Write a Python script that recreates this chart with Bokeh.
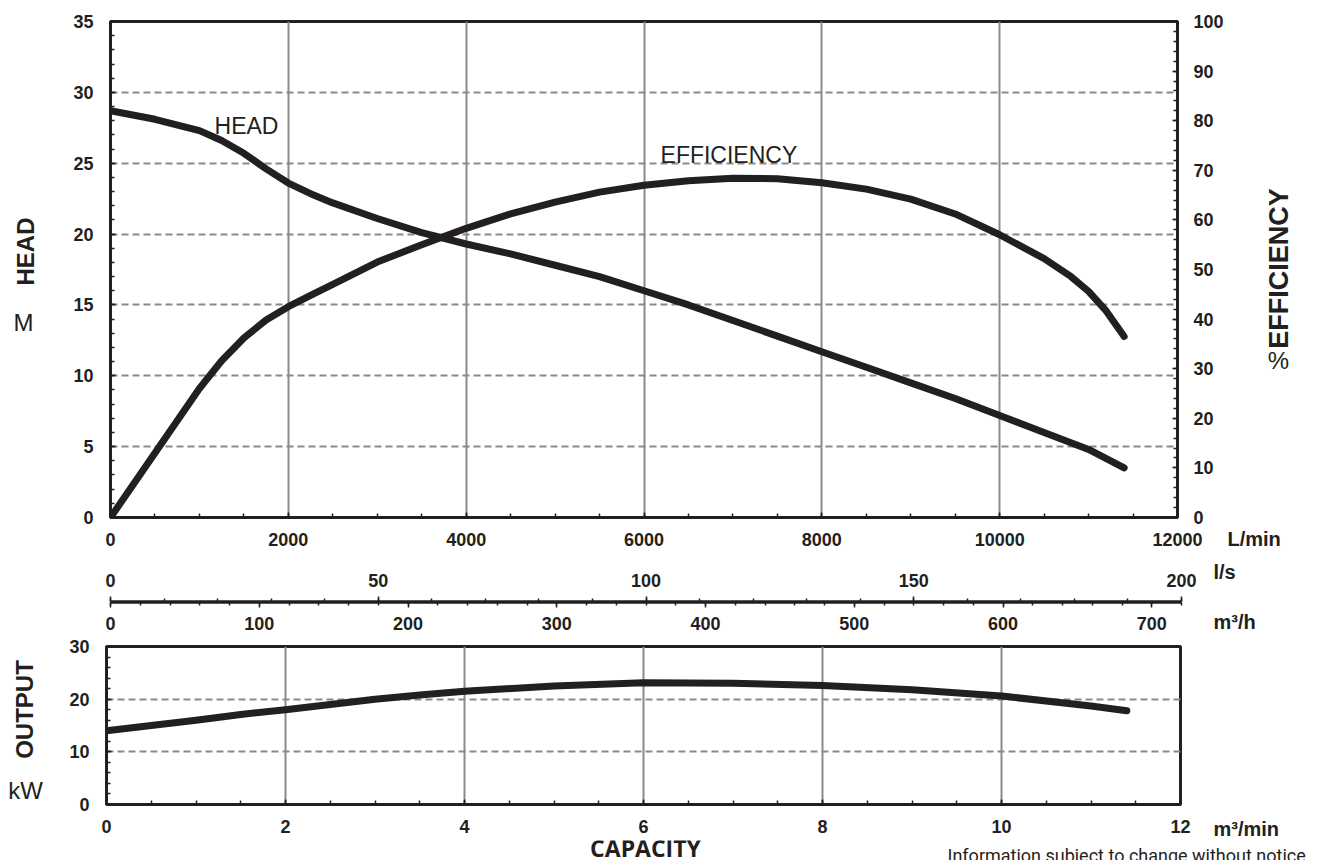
from math import pi
from bokeh.plotting import figure
from bokeh.models import Range1d, LinearAxis, SingleIntervalTicker, Label
from bokeh.layouts import column, row
from bokeh.embed import file_html
from bokeh.resources import INLINE

# ---------------- data ----------------
head_flow_lpm = [0, 500, 1000, 1250, 1500, 1750, 2000, 2250, 2500, 3000, 3500, 4000, 4500, 5000, 5500,
                 6000, 6500, 7000, 7500, 8000, 8500, 9000, 9500, 10000, 10500, 11000, 11400]
head_m = [28.7, 28.1, 27.3, 26.6, 25.7, 24.6, 23.6, 22.85, 22.2, 21.1, 20.1, 19.3, 18.6, 17.8, 17.0,
          16.0, 15.0, 13.9, 12.8, 11.7, 10.6, 9.5, 8.4, 7.2, 6.0, 4.8, 3.5]

eff_flow_lpm = [0, 500, 1000, 1250, 1500, 1750, 2000, 2250, 2500, 3000, 3500, 4000, 4500, 5000, 5500,
                6000, 6500, 7000, 7500, 8000, 8500, 9000, 9500, 10000, 10500, 10800, 11000, 11200, 11400]
eff_pct = [0, 13.0, 26.0, 31.6, 36.2, 39.8, 42.5, 44.8, 47.0, 51.5, 55.0, 58.3, 61.2, 63.6, 65.6,
           67.0, 67.9, 68.4, 68.3, 67.5, 66.2, 64.2, 61.2, 57.0, 52.2, 48.6, 45.6, 41.6, 36.5]

out_flow_m3min = [0, 0.5, 1.0, 1.5, 2.0, 2.5, 3.0, 3.5, 4.0, 5.0, 6.0, 7.0, 8.0, 9.0, 10.0, 11.0, 11.4]
output_kw = [14.0, 15.0, 16.0, 17.1, 18.0, 19.0, 20.0, 20.8, 21.5, 22.5, 23.1, 23.0, 22.6, 21.8, 20.6, 18.7, 17.8]

INK = "#231f20"
GRID = "#8a8a8a"
FONT = "Liberation Sans"

TOTAL_W = 1320
LEFT_W = 60                 # left text strips
MAIN_W = 1166               # main chart canvas (60 -> 1226)
LOW_W = 1152                # scale strip and output chart canvas (60 -> 1212)
MAIN_H, MIDDLE_H, BOT_H, FOOT_H = 555, 82, 203, 20


def style_axis(ax, tin=5, tout=0, min_in=4, min_out=0, standoff=15, line_w=3):
    ax.axis_line_width = line_w
    ax.axis_line_color = INK
    ax.major_tick_in = tin
    ax.major_tick_out = tout
    ax.minor_tick_in = min_in
    ax.minor_tick_out = min_out
    ax.major_tick_line_width = 1.5
    ax.minor_tick_line_width = 1.5
    ax.major_tick_line_color = INK
    ax.minor_tick_line_color = INK
    ax.major_label_text_font = FONT
    ax.major_label_text_font_style = "bold"
    ax.major_label_text_font_size = "18px"
    ax.major_label_text_color = INK
    ax.major_label_standoff = standoff


def label(p, x, y, t, size="24px", bold=False, align="left", baseline="middle", angle=0, font=FONT):
    p.add_layout(Label(x=x, y=y, text=t, text_font=font, text_font_size=size,
                       text_font_style="bold" if bold else "normal",
                       text_color=INK, text_align=align, text_baseline=baseline, angle=angle))


def strip(w, h, x0, y0):
    """A blank panel whose data coordinates are page pixel coordinates (used only for text)."""
    s = figure(width=w, height=h, x_range=Range1d(x0, x0 + w), y_range=Range1d(y0 + h, y0),
               x_axis_location=None, y_axis_location=None, output_backend="svg",
               toolbar_location=None, min_border_left=0, min_border_right=0,
               min_border_top=0, min_border_bottom=0)
    s.outline_line_color = None
    s.xgrid.visible = False
    s.ygrid.visible = False
    return s


# ---------------- main (head / efficiency) ----------------
main = figure(width=MAIN_W, height=MAIN_H, x_range=Range1d(0, 12000), y_range=Range1d(0, 35),
              output_backend="svg", toolbar_location=None,
              min_border_left=50, min_border_right=49, min_border_top=21, min_border_bottom=38)
main.extra_y_ranges = {"eff": Range1d(0, 100)}
main.outline_line_color = INK
main.outline_line_width = 3

xt = SingleIntervalTicker(interval=2000, num_minor_ticks=4)
yt = SingleIntervalTicker(interval=5, num_minor_ticks=5)
main.xaxis[0].ticker = xt
main.yaxis[0].ticker = yt
main.xgrid[0].ticker = xt
main.ygrid[0].ticker = yt
style_axis(main.xaxis[0], standoff=15)
style_axis(main.yaxis[0], standoff=17)

rax = LinearAxis(y_range_name="eff", ticker=SingleIntervalTicker(interval=10, num_minor_ticks=5))
style_axis(rax, standoff=16)
main.add_layout(rax, "right")

main.xgrid.grid_line_color = GRID
main.xgrid.grid_line_width = 2
main.ygrid.grid_line_color = GRID
main.ygrid.grid_line_width = 2
main.ygrid.grid_line_dash = "7 4"

main.line(head_flow_lpm, head_m, line_color=INK, line_width=7, line_cap="round", line_join="round")
main.line(eff_flow_lpm, eff_pct, y_range_name="eff", line_color=INK, line_width=7,
          line_cap="round", line_join="round")

label(main, 1170, 27.6, "HEAD", size="23px")
label(main, 6186, 25.55, "EFFICIENCY", size="23px")

# ---------------- middle (l/s and m3/h scales) ----------------
mid = figure(width=LOW_W, height=MIDDLE_H, x_range=Range1d(0, 200), y_range=Range1d(0, 1),
             x_axis_location="above", y_axis_location=None,
             output_backend="svg", toolbar_location=None,
             min_border_left=50, min_border_right=31, min_border_top=46, min_border_bottom=35)
mid.outline_line_color = None
mid.xgrid.visible = False
mid.ygrid.visible = False
mid.extra_x_ranges = {"m3h": Range1d(0, 720)}
mid.xaxis[0].ticker = SingleIntervalTicker(interval=50, num_minor_ticks=5)
style_axis(mid.xaxis[0], tin=0, tout=5, min_in=0, min_out=3, standoff=10, line_w=2.5)
m3h = LinearAxis(x_range_name="m3h", ticker=SingleIntervalTicker(interval=100, num_minor_ticks=5))
style_axis(m3h, tin=0, tout=5, min_in=0, min_out=3, standoff=9, line_w=2.5)
mid.add_layout(m3h, "below")

# ---------------- bottom (output) ----------------
bot = figure(width=LOW_W, height=BOT_H, x_range=Range1d(0, 12), y_range=Range1d(0, 30),
             output_backend="svg", toolbar_location=None,
             min_border_left=46, min_border_right=32, min_border_top=9, min_border_bottom=36)
bot.outline_line_color = INK
bot.outline_line_width = 3
bxt = SingleIntervalTicker(interval=2, num_minor_ticks=4)
byt = SingleIntervalTicker(interval=10, num_minor_ticks=5)
bot.xaxis[0].ticker = bxt
bot.yaxis[0].ticker = byt
bot.xgrid[0].ticker = bxt
bot.ygrid[0].ticker = byt
style_axis(bot.xaxis[0], standoff=15)
style_axis(bot.yaxis[0], standoff=17)
bot.xgrid.grid_line_color = GRID
bot.xgrid.grid_line_width = 2
bot.ygrid.grid_line_color = GRID
bot.ygrid.grid_line_width = 2
bot.ygrid.grid_line_dash = "7 4"

bot.line(out_flow_m3min, output_kw, line_color=INK, line_width=7, line_cap="round", line_join="round")

# ---------------- text strips ----------------
y_mid = MAIN_H
y_bot = MAIN_H + MIDDLE_H
y_foot = y_bot + BOT_H

left_a = strip(LEFT_W, MAIN_H, 0, 0)
label(left_a, 25, 251, "HEAD", bold=True, align="center", angle=pi / 2)
label(left_a, 23, 322, "M", align="center")

x_ra = LEFT_W + MAIN_W
right_a = strip(TOTAL_W - x_ra, MAIN_H, x_ra, 0)
label(right_a, 1278, 268, "EFFICIENCY", size="27px", bold=True, align="center", angle=pi / 2)
label(right_a, 1278, 360, "%", align="center")
label(right_a, x_ra + 1, 538, "L/min", size="20px", bold=True)

x_rb = LEFT_W + LOW_W
left_b = strip(LEFT_W, MIDDLE_H, 0, y_mid)
right_b = strip(TOTAL_W - x_rb, MIDDLE_H, x_rb, y_mid)
label(right_b, 1213, 571, "l/s", size="20px", bold=True)
label(right_b, 1213, 621, "m³/h", size="20px", bold=True)

left_c = strip(LEFT_W, BOT_H, 0, y_bot)
label(left_c, 24, 709, "OUTPUT", bold=True, align="center", angle=pi / 2)
label(left_c, 25, 790, "kW", align="center")
right_c = strip(TOTAL_W - x_rb, BOT_H, x_rb, y_bot)
label(right_c, 1213, 828, "m³/min", size="20px", bold=True)

foot = strip(TOTAL_W, FOOT_H, 0, y_foot)
label(foot, 645, 847, "CAPACITY", size="23px", bold=True, align="center", font="Open Sans")
label(foot, 1310, 855, "Information subject to change without notice.", size="18px",
      align="right", baseline="alphabetic", font="Roboto")

# text strips are wrapped in their own columns so that their frames are not aligned
# with the chart frames beside them
layout = column(
    row(column(left_a), main, column(right_a), spacing=0),
    row(column(left_b), mid, column(right_b), spacing=0),
    row(column(left_c), bot, column(right_c), spacing=0),
    foot,
    spacing=0,
)
open("out.html", "w").write(file_html(layout, INLINE))
